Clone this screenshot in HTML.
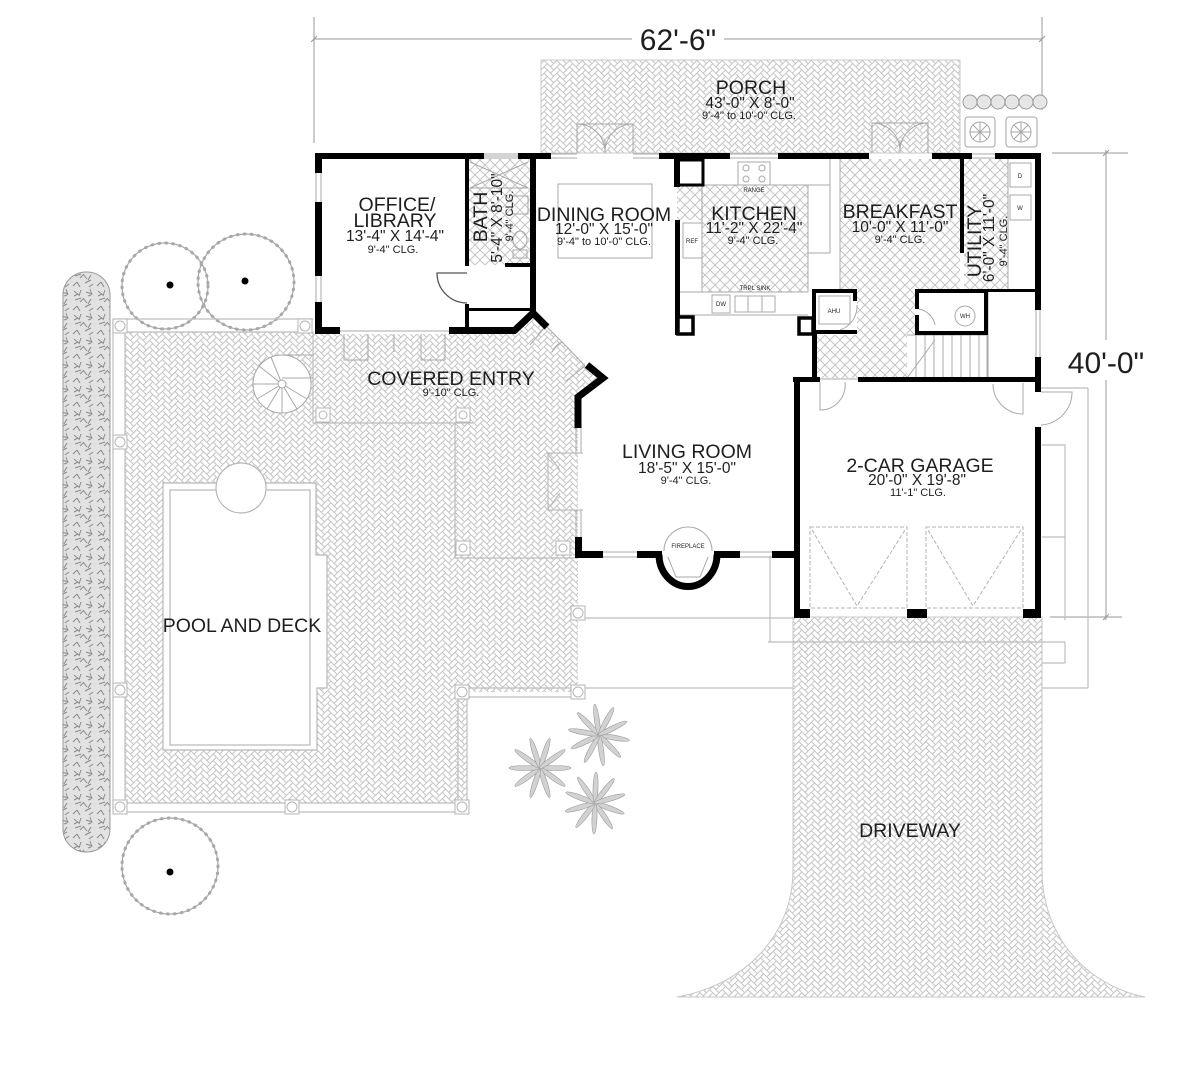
<!DOCTYPE html>
<html><head><meta charset="utf-8"><style>
html,body{margin:0;padding:0;background:#fff;}
svg{display:block;}
text{font-family:"Liberation Sans",Arial,sans-serif;fill:#1e1e1e;}
</style></head><body>
<svg width="1200" height="1075" viewBox="0 0 1200 1075" xmlns="http://www.w3.org/2000/svg">
<defs>
<g id="hbg" fill="none" stroke="#c4c4c4" stroke-width="1">
<rect x="0" y="0" width="9" height="4.5"/><rect x="9" y="-4.5" width="4.5" height="9"/>
<rect x="4.5" y="4.5" width="9" height="4.5"/><rect x="13.5" y="0" width="4.5" height="9"/>
<rect x="9" y="9" width="9" height="4.5"/><rect x="18" y="4.5" width="4.5" height="9"/>
<rect x="13.5" y="13.5" width="9" height="4.5"/><rect x="22.5" y="9" width="4.5" height="9"/>
</g>
<pattern id="hb" width="18" height="18" patternUnits="userSpaceOnUse" patternTransform="rotate(45)">
<use href="#hbg"/>
<use href="#hbg" transform="translate(-18,0)"/>
<use href="#hbg" transform="translate(18,0)"/>
<use href="#hbg" transform="translate(0,-18)"/>
<use href="#hbg" transform="translate(0,18)"/>
<use href="#hbg" transform="translate(-18,-18)"/>
<use href="#hbg" transform="translate(-18,18)"/>
<use href="#hbg" transform="translate(18,-18)"/>
<use href="#hbg" transform="translate(18,18)"/>
</pattern>
<pattern id="dm" width="10" height="10" patternUnits="userSpaceOnUse">
<path d="M0 0L10 10M10 0L0 10" stroke="#c4c4c4" stroke-width="1" fill="none"/>
</pattern>
<pattern id="sh" width="24" height="24" patternUnits="userSpaceOnUse">
<rect width="24" height="24" fill="#e2e2e2"/>
<path d="M2 3l5 4M9 2l-2 6M14 4l6 2M18 1l2 6M3 12l6-2M11 10l4 5M19 11l-3 5M5 18l3 5M13 19l6-3M21 20l-4 3M1 22l4-4M8 14l3-3M16 8l3-1M6 6l-4 2" stroke="#8a8a8a" stroke-width="1"/>
</pattern>
</defs>

<!-- dimension lines -->
<g stroke="#9a9a9a" stroke-width="1" fill="none">
<path d="M314 39H1042M314 17V143M1042 17V110M311 42L317 36M1039 42L1045 36"/>
<path d="M1106 150V620M1052 153H1128M1050 617H1122M1103 156L1109 150M1103 620L1109 614"/>
</g>
<rect x="632" y="22" width="92" height="34" fill="#fff"/>
<text x="678" y="50" font-size="30" text-anchor="middle">62'-6"</text>
<rect x="1060" y="340" width="92" height="40" fill="#fff"/>
<text x="1106" y="373" font-size="30" text-anchor="middle">40'-0"</text>

<!-- shrubs -->
<rect x="63" y="272" width="47" height="580" rx="23" fill="url(#sh)" stroke="#9a9a9a" stroke-width="1"/>

<!-- trees -->
<g fill="none" stroke="#a8a8a8">
<circle cx="165" cy="286" r="43" stroke-width="1.2"/>
<circle cx="165" cy="286" r="43" stroke-width="3" stroke-dasharray="1 6" stroke-linecap="round"/>
<circle cx="246" cy="282" r="48" stroke-width="1.2"/>
<circle cx="246" cy="282" r="48" stroke-width="3" stroke-dasharray="1 6" stroke-linecap="round"/>
<circle cx="170" cy="866" r="48" stroke-width="1.2"/>
<circle cx="170" cy="866" r="48" stroke-width="3" stroke-dasharray="1 6" stroke-linecap="round"/>
</g>
<circle cx="170" cy="285" r="3.5" fill="#000"/>
<circle cx="245" cy="281" r="3.5" fill="#000"/>
<circle cx="170" cy="872" r="3.5" fill="#000"/>

<!-- palms -->
<g fill="#d2d2d2" stroke="#9c9c9c" stroke-width="0.6">
<g transform="translate(540,768)">
<ellipse cx="15" cy="0" rx="16" ry="2.5"/><ellipse cx="15" cy="0" rx="16" ry="2.5" transform="rotate(36)"/><ellipse cx="15" cy="0" rx="16" ry="2.5" transform="rotate(72)"/><ellipse cx="15" cy="0" rx="16" ry="2.5" transform="rotate(108)"/><ellipse cx="15" cy="0" rx="16" ry="2.5" transform="rotate(144)"/><ellipse cx="15" cy="0" rx="16" ry="2.5" transform="rotate(180)"/><ellipse cx="15" cy="0" rx="16" ry="2.5" transform="rotate(216)"/><ellipse cx="15" cy="0" rx="16" ry="2.5" transform="rotate(252)"/><ellipse cx="15" cy="0" rx="16" ry="2.5" transform="rotate(288)"/><ellipse cx="15" cy="0" rx="16" ry="2.5" transform="rotate(324)"/>
</g>
<g transform="translate(599,735)">
<ellipse cx="15" cy="0" rx="16" ry="2.5" transform="rotate(10)"/><ellipse cx="15" cy="0" rx="16" ry="2.5" transform="rotate(46)"/><ellipse cx="15" cy="0" rx="16" ry="2.5" transform="rotate(82)"/><ellipse cx="15" cy="0" rx="16" ry="2.5" transform="rotate(118)"/><ellipse cx="15" cy="0" rx="16" ry="2.5" transform="rotate(154)"/><ellipse cx="15" cy="0" rx="16" ry="2.5" transform="rotate(190)"/><ellipse cx="15" cy="0" rx="16" ry="2.5" transform="rotate(226)"/><ellipse cx="15" cy="0" rx="16" ry="2.5" transform="rotate(262)"/><ellipse cx="15" cy="0" rx="16" ry="2.5" transform="rotate(298)"/><ellipse cx="15" cy="0" rx="16" ry="2.5" transform="rotate(334)"/>
</g>
<g transform="translate(595,803)">
<ellipse cx="15" cy="0" rx="16" ry="2.5" transform="rotate(20)"/><ellipse cx="15" cy="0" rx="16" ry="2.5" transform="rotate(56)"/><ellipse cx="15" cy="0" rx="16" ry="2.5" transform="rotate(92)"/><ellipse cx="15" cy="0" rx="16" ry="2.5" transform="rotate(128)"/><ellipse cx="15" cy="0" rx="16" ry="2.5" transform="rotate(164)"/><ellipse cx="15" cy="0" rx="16" ry="2.5" transform="rotate(200)"/><ellipse cx="15" cy="0" rx="16" ry="2.5" transform="rotate(236)"/><ellipse cx="15" cy="0" rx="16" ry="2.5" transform="rotate(272)"/><ellipse cx="15" cy="0" rx="16" ry="2.5" transform="rotate(308)"/><ellipse cx="15" cy="0" rx="16" ry="2.5" transform="rotate(344)"/>
</g>
</g>

<!-- hatched floors -->
<rect x="541" y="60" width="419" height="93" fill="url(#hb)" stroke="#c8c8c8"/>
<path d="M125 332H313V334H515L532 314L545 325L588 367L603 378L578 397V692H467V803H125Z" fill="url(#hb)"/>
<path d="M793 617H1042V870C1042 935 1085 985 1145 997H677C745 985 793 935 793 870Z" fill="url(#hb)" stroke="#c8c8c8"/>
<g fill="url(#dm)">
<rect x="469" y="159" width="61" height="106"/>
<rect x="702" y="185" width="106" height="107"/>
<rect x="677" y="185" width="25" height="35"/>
<rect x="840" y="159" width="120" height="130"/>
<rect x="964" y="159" width="44" height="130"/>
<rect x="857" y="289" width="58" height="46"/>
<rect x="817" y="335" width="90" height="43"/>
</g>

<!-- pool -->
<path d="M163 483H316V555H327V688H317V750H163Z" fill="#fff" stroke="#b8b8b8" stroke-width="1.2"/>
<rect x="170" y="490" width="140" height="255" fill="#fff" stroke="#b8b8b8" stroke-width="1.2"/>
<circle cx="241" cy="488" r="25" fill="#fff" stroke="#b8b8b8" stroke-width="1.2"/>

<!-- deck borders & posts -->
<g stroke="#bdbdbd" stroke-width="1.2" fill="none">
<path d="M113 319V812M125 332V803M113 319H313M125 332H313M113 812H467M125 803H458M467 812V697M458 803V688M458 688H578M467 697H578"/>
<path d="M578 618H793M578 688H793M770 556V642M768 642H1065M1065 642V663M1042 663H1065M1088 388V688M1042 688H1088M1040 388H1088M1042 445H1065V537H1042M1042 537H1065V620"/>
<path d="M313 332V423H473M455 423V558H578"/>
<path d="M583 453H548V510H583M547 453L560 470M547 510L560 493"/>
</g>
<g fill="#fff" stroke="#b5b5b5" stroke-width="1">
<rect x="113" y="319" width="14" height="14"/><circle cx="120" cy="326" r="5"/>
<rect x="298" y="319" width="14" height="14"/><circle cx="305" cy="326" r="5"/>
<rect x="113" y="435" width="14" height="14"/><circle cx="120" cy="442" r="5"/>
<rect x="113" y="683" width="14" height="14"/><circle cx="120" cy="690" r="5"/>
<rect x="113" y="800" width="14" height="14"/><circle cx="120" cy="807" r="5"/>
<rect x="285" y="800" width="14" height="14"/><circle cx="292" cy="807" r="5"/>
<rect x="455" y="800" width="14" height="14"/><circle cx="462" cy="807" r="5"/>
<rect x="455" y="685" width="14" height="14"/><circle cx="462" cy="692" r="5"/>
<rect x="571" y="685" width="14" height="14"/><circle cx="578" cy="692" r="5"/>
<rect x="571" y="606" width="14" height="14"/><circle cx="578" cy="613" r="5"/>
<rect x="316" y="408" width="14" height="14"/><circle cx="323" cy="415" r="4"/>
<rect x="456" y="408" width="14" height="14"/><circle cx="463" cy="415" r="4"/>
<rect x="456" y="541" width="14" height="14"/><circle cx="463" cy="548" r="4"/>
<rect x="556" y="541" width="14" height="14"/><circle cx="563" cy="548" r="4"/>
</g>

<!-- spiral stair -->
<g stroke="#a8a8a8" stroke-width="1" fill="#fff">
<circle cx="282" cy="384" r="29"/>
<path d="M282 384L253 384M282 384L257 399M282 384L267 409M282 384L282 413M282 384L297 409M282 384L307 399M282 384L259 366M282 384L271 357M282 355H313M282 378H313" fill="none"/>
<circle cx="282" cy="384" r="4"/>
</g>

<!-- porch right: planters and AC -->
<g fill="#e6e6e6" stroke="#9a9a9a" stroke-width="1">
<circle cx="970" cy="102" r="7"/><circle cx="984" cy="102" r="7"/><circle cx="998" cy="102" r="7"/><circle cx="1012" cy="102" r="7"/><circle cx="1026" cy="102" r="7"/><circle cx="1040" cy="102" r="7"/>
</g>
<g fill="#fff" stroke="#a5a5a5" stroke-width="1">
<rect x="965" y="117" width="30" height="30" rx="3"/><circle cx="980" cy="132" r="10"/>
<rect x="1006" y="117" width="31" height="30" rx="3"/><circle cx="1021" cy="132" r="10"/>
<path d="M980 122V142M970 132H990M973 125L987 139M987 125L973 139M1021 122V142M1011 132H1031M1014 125L1028 139M1028 125L1014 139" fill="none"/>
</g>

<!-- light interior fixtures -->
<g stroke="#a8a8a8" stroke-width="1" fill="none">
<path d="M577 153V124H633V153M605 153V140M577 124A28 28 0 0 1 605 152M633 124A28 28 0 0 0 605 152"/>
<path d="M872 153V123H928V153M900 153V140M872 123A28 28 0 0 1 900 152M928 123A28 28 0 0 0 900 152"/>
<path d="M484 154H518M484 158H518M484 156H518M730 154H778M730 158H778M972 154H995M972 158H995M551 154H577M551 158H577M633 154H659M633 158H659"/>
<path d="M316 173V202M321 173V202M316 276V302M321 276V302M1036 310V357M1040 310V357M576 428V453M581 428V453M576 510V537M581 510V537"/>
<path d="M603 552H637M603 557H637M740 552H772M740 557H772"/>
<path d="M340 331H449M344 334V360H368V334M445 334V360H421V334M394 334V352"/>
<rect x="558" y="184" width="94" height="74"/>
<path d="M470 162L528 188M528 162L470 188M470 188H528"/>
<rect x="512" y="196" width="16" height="18"/>
<ellipse cx="520" cy="240" rx="7" ry="9"/>
<rect x="513" y="250" width="14" height="8"/>
<path d="M703 159V185H830M808 185V292M702 185V292H808M680 292H808M680 315H808M830 159V253H808"/>
<rect x="738" y="162" width="32" height="23"/>
<circle cx="746" cy="168" r="3"/><circle cx="762" cy="168" r="3"/><circle cx="746" cy="179" r="3"/><circle cx="762" cy="179" r="3"/>
<rect x="683" y="223" width="19" height="35"/>
<rect x="712" y="295" width="18" height="18"/>
<rect x="735" y="296" width="40" height="16"/>
<path d="M748 296V312M762 296V312M840 159V292"/>
<rect x="1010" y="163" width="21" height="24"/>
<rect x="1010" y="195" width="21" height="25"/>
<path d="M1008 159V289"/>
<rect x="819" y="296" width="31" height="28"/>
<circle cx="965" cy="316" r="10"/>
<path d="M919 309A20 20 0 0 1 935 325M988 292V380"/>
<path d="M907 335H987V378M916 335V378M925 335V378M934 335V378M943 335V378M952 335V378M961 335V378M970 335V378M979 335V378M907 378L935 340"/>
<path d="M857 305A25 25 0 0 1 840 330M820 382V410A25 25 0 0 0 845 382"/>
<path d="M546 326L566 346L585 366M546 326L530 345M585 366L566 381M562 342A20 20 0 0 0 552 352"/>
<path d="M1041 392H1072A33 33 0 0 1 1041 425M1023 383V414A30 30 0 0 1 993 384M818 379H858"/>
<path d="M664 551A24 24 0 0 1 712 551M668 557L676 577H700L708 557"/>
</g>
<g stroke="#b3b3b3" stroke-width="1" fill="none" stroke-dasharray="4 2">
<rect x="810" y="527" width="97" height="81"/>
<rect x="926" y="527" width="97" height="81"/>
<path d="M812 530L857 606L905 530M928 530L973 606L1021 530"/>
</g>

<path d="M467 273H437A30 30 0 0 0 467 303" fill="none" stroke="#555" stroke-width="1.3"/>

<!-- walls -->
<g fill="#000">
<rect x="315" y="153" width="169" height="6"/>
<rect x="518" y="153" width="33" height="6"/>
<rect x="659" y="153" width="71" height="6"/>
<rect x="778" y="153" width="91" height="6"/>
<rect x="932" y="153" width="40" height="6"/>
<rect x="995" y="153" width="46" height="6"/>
<rect x="1035" y="153" width="6" height="157"/>
<rect x="1035" y="357" width="6" height="35"/>
<rect x="1035" y="427" width="6" height="191"/>
<rect x="315" y="153" width="7" height="20"/>
<rect x="315" y="202" width="7" height="74"/>
<rect x="315" y="302" width="7" height="32"/>
<rect x="315" y="327" width="25" height="7"/>
<rect x="449" y="327" width="67" height="7"/>
<rect x="530" y="159" width="6" height="155"/>
<rect x="465" y="159" width="4" height="107"/>
<rect x="465" y="304" width="4" height="30"/>
<rect x="465" y="308" width="68" height="3"/>
<rect x="505" y="263" width="30" height="4"/>
<rect x="674" y="153" width="6" height="34"/>
<rect x="675" y="220" width="5" height="115"/>
<rect x="812" y="289" width="45" height="4"/>
<rect x="812" y="289" width="4" height="46"/>
<rect x="812" y="330" width="45" height="4"/>
<rect x="853" y="289" width="4" height="12"/>
<rect x="812" y="333" width="5" height="47"/>
<rect x="793" y="377" width="27" height="5"/>
<rect x="858" y="377" width="180" height="5"/>
<rect x="794" y="377" width="6" height="241"/>
<rect x="794" y="609" width="16" height="9"/>
<rect x="907" y="609" width="20" height="9"/>
<rect x="1023" y="609" width="18" height="9"/>
<rect x="915" y="289" width="73" height="4"/>
<rect x="915" y="289" width="4" height="20"/>
<rect x="915" y="315" width="4" height="20"/>
<rect x="915" y="331" width="73" height="4"/>
<rect x="984" y="289" width="4" height="46"/>
<rect x="988" y="289" width="47" height="3"/>
<rect x="960" y="153" width="4" height="100"/>
<rect x="575" y="537" width="7" height="21"/>
<rect x="575" y="551" width="28" height="7"/>
<rect x="637" y="551" width="25" height="7"/>
<rect x="714" y="551" width="26" height="7"/>
<rect x="772" y="551" width="28" height="7"/>
</g>
<g fill="none" stroke="#000">
<path d="M514 331L533 313L547 327" stroke-width="7"/>
<path d="M587 365L603 378L578 397V428" stroke-width="7"/>
<path d="M659 554.5A29 32 0 0 0 717 554.5" stroke-width="7"/>
<rect x="678" y="160" width="25" height="25" stroke-width="3"/>
<rect x="678" y="317" width="15" height="17" stroke-width="3.5" fill="#fff"/>
<rect x="799" y="318" width="14" height="16" stroke-width="3.5" fill="#fff"/>
</g>

<!-- small labels -->
<g font-size="6" text-anchor="middle">
<text x="754" y="192">RANGE</text>
<text x="692" y="243">REF</text>
<text x="721" y="306">DW</text>
<text x="755" y="290">TRPL SINK</text>
<text x="834" y="313">AHU</text>
<text x="965" y="318">WH</text>
<text x="1020" y="178">D</text>
<text x="1020" y="210">W</text>
<text x="688" y="548">FIREPLACE</text>
</g>

<!-- room labels -->
<g text-anchor="middle">
<text x="751" y="94" font-size="19.5">PORCH</text>
<text x="750" y="108" font-size="15.5">43'-0" X 8'-0"</text>
<text x="749" y="119" font-size="11">9'-4" to 10'-0" CLG.</text>

<text x="397" y="211" font-size="19.5">OFFICE/</text>
<text x="395" y="227" font-size="19.5">LIBRARY</text>
<text x="395" y="241" font-size="15.5">13'-4" X 14'-4"</text>
<text x="393" y="253" font-size="11">9'-4" CLG.</text>

<text transform="translate(487,217) rotate(-90)" font-size="19.5">BATH</text>
<text transform="translate(502,218) rotate(-90)" font-size="15.5">5'-4" X 8'-10"</text>
<text transform="translate(513,216) rotate(-90)" font-size="11">9'-4" CLG.</text>

<text x="604" y="221" font-size="19.5">DINING ROOM</text>
<text x="604" y="234" font-size="15.5">12'-0" X 15'-0"</text>
<text x="604" y="245" font-size="11">9'-4" to 10'-0" CLG.</text>

<text x="754" y="220" font-size="19.5">KITCHEN</text>
<text x="754" y="233" font-size="15.5">11'-2" X 22'-4"</text>
<text x="753" y="244" font-size="11">9'-4" CLG.</text>

<text x="900" y="218" font-size="19.5">BREAKFAST</text>
<text x="900" y="232" font-size="15.5">10'-0" X 11'-0"</text>
<text x="900" y="243" font-size="11">9'-4" CLG.</text>

<text transform="translate(981,241) rotate(-90)" font-size="19.5">UTILITY</text>
<text transform="translate(994,238) rotate(-90)" font-size="15.5">6'-0" X 11'-0"</text>
<text transform="translate(1007,241) rotate(-90)" font-size="11">9'-4" CLG.</text>

<text x="451" y="385" font-size="19.5">COVERED ENTRY</text>
<text x="451" y="396" font-size="11">9'-10" CLG.</text>

<text x="687" y="458" font-size="19.5">LIVING ROOM</text>
<text x="687" y="473" font-size="15.5">18'-5" X 15'-0"</text>
<text x="686" y="484" font-size="11">9'-4" CLG.</text>

<text x="920" y="472" font-size="19.5">2-CAR GARAGE</text>
<text x="917" y="485" font-size="15.5">20'-0" X 19'-8"</text>
<text x="918" y="496" font-size="11">11'-1" CLG.</text>

<text x="242" y="632" font-size="19.5">POOL AND DECK</text>
<text x="910" y="837" font-size="19.5">DRIVEWAY</text>
</g>
</svg>
</body></html>
